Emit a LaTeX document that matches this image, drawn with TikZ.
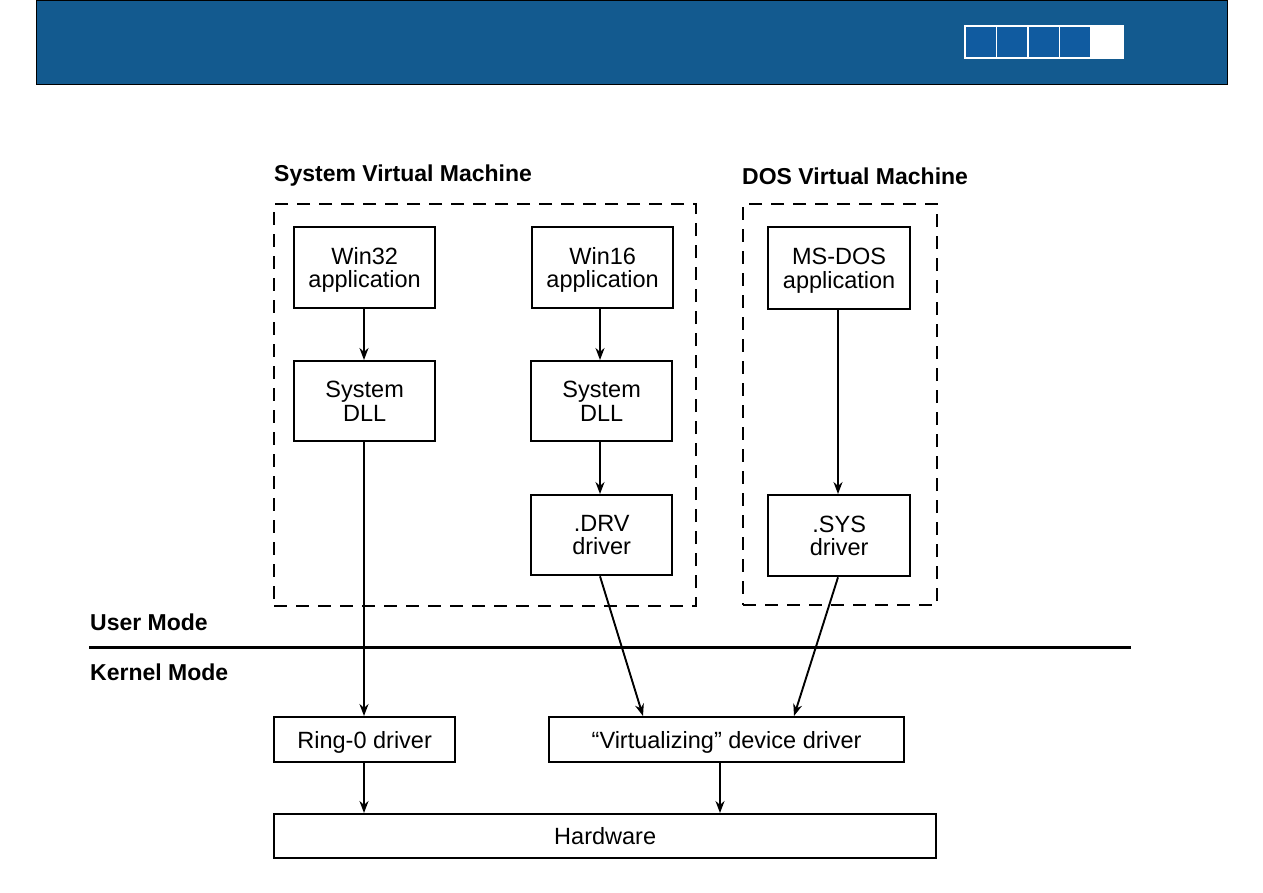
\documentclass[tikz,border=0pt]{standalone}
\usepackage{fontspec}
\setmainfont{Liberation Sans}
\usetikzlibrary{arrows.meta}
\definecolor{hdr}{HTML}{135A8F}
\definecolor{sq}{HTML}{105BA0}
\begin{document}
\begin{tikzpicture}[x=1pt,y=-1pt,
  box/.style={draw, line width=2.3pt, fill=white, inner sep=0pt, align=center, text depth=0pt, font=\fontsize{23.5}{23.5}\selectfont},
  vm/.style={draw, line width=2.2pt, dash pattern=on 13pt off 9pt},
  lbl/.style={anchor=west, inner sep=0pt, font=\fontsize{23}{24}\selectfont\bfseries},
  arr/.style={line width=1.9pt, -{Stealth[length=12pt,width=9pt]}}]
\useasboundingbox (0,0) rectangle (1263,893);
\fill[white] (0,0) rectangle (1263,893);
% header
\node[draw=black, line width=0.8pt, fill=hdr, minimum width=1191pt, minimum height=84pt, inner sep=0pt, anchor=north west] (hdr) at (36,0) {};
\node[fill=white, minimum width=160pt, minimum height=34pt, inner sep=0pt, anchor=north west] (strip) at (964,25) {};
\foreach \i/\x in {1/966,2/997,3/1029,4/1060}
  \node[fill=sq, minimum width=30pt, minimum height=30pt, inner sep=0pt, anchor=north west] (sq\i) at (\x,27) {};
% VM frames
\node[vm, minimum width=422pt, minimum height=402pt, anchor=north west, inner sep=0pt] (svm) at (273,203) {};
\node[vm, minimum width=194pt, minimum height=401pt, anchor=north west, inner sep=0pt] (dvm) at (742,203) {};
\node[lbl] (svmlbl) at (274,176) {System Virtual Machine};
\node[lbl] (dvmlbl) at (742,176) {DOS Virtual Machine};
% boxes
\node[box, minimum width=141pt, minimum height=81pt, anchor=north west] (w32) at (293,226) {Win32\\application};
\node[box, minimum width=141pt, minimum height=81pt, anchor=north west] (w16) at (531,226) {Win16\\application};
\node[box, minimum width=142pt, minimum height=82pt, anchor=north west] (msdos) at (767,226) {MS-DOS\\application};
\node[box, minimum width=141pt, minimum height=80pt, anchor=north west] (dll1) at (293,360) {System\\DLL};
\node[box, minimum width=141pt, minimum height=80pt, anchor=north west] (dll2) at (530,360) {System\\DLL};
\node[box, minimum width=141pt, minimum height=80pt, anchor=north west] (drv) at (530,494) {.DRV\\driver};
\node[box, minimum width=142pt, minimum height=81pt, anchor=north west] (sys) at (767,494) {.SYS\\driver};
\node[box, minimum width=181pt, minimum height=45pt, anchor=north west] (ring) at (273,716) {Ring-0 driver};
\node[box, minimum width=355pt, minimum height=45pt, anchor=north west] (virt) at (548,716) {``Virtualizing'' device driver};
\node[box, minimum width=662pt, minimum height=44pt, anchor=north west] (hw) at (273,813) {Hardware};
% mode line
\coordinate (ml) at (89,647);
\coordinate (mr) at (1131,647);
\draw[line width=3pt] (ml) -- (mr);
\node[lbl] (um) at (90,622) {User Mode};
\node[lbl] (km) at (90,672) {Kernel Mode};
% arrows
\draw[arr] (w32.south -| 364,0) -- (dll1.north -| 364,0);
\draw[arr] (dll1.south -| 364,0) -- (ring.north -| 364,0);
\draw[arr] (w16.south -| 600,0) -- (dll2.north -| 600,0);
\draw[arr] (dll2.south -| 600,0) -- (drv.north -| 600,0);
\draw[arr] (msdos.south -| 838,0) -- (sys.north -| 838,0);
\draw[arr] (drv.south -| 600,0) -- (virt.north -| 643,0);
\draw[arr] (sys.south -| 838,0) -- (virt.north -| 794,0);
\draw[arr] (ring.south -| 364,0) -- (hw.north -| 364,0);
\draw[arr] (virt.south -| 720,0) -- (hw.north -| 720,0);
\end{tikzpicture}
\end{document}
